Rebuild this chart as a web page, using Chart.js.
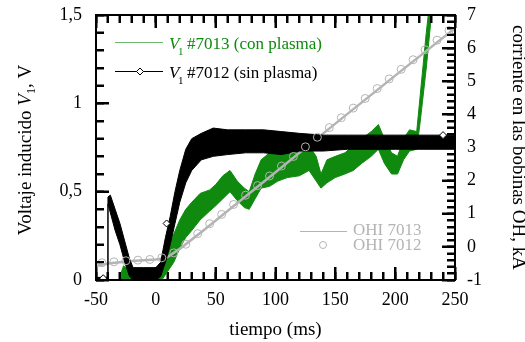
<!DOCTYPE html>
<html>
<head>
<meta charset="utf-8">
<script src="https://cdn.jsdelivr.net/npm/chart.js@4.4.0/dist/chart.umd.min.js"></script>
<style>
  html, body { margin: 0; padding: 0; background: #fff; }
  #wrap { width: 525px; height: 342px; }
</style>
</head>
<body>
<div id="wrap"><canvas id="chart" width="525" height="342"></canvas></div>
<script>
const SERIF = '"Liberation Serif", "Times New Roman", serif';

// V1 #7012 (sin plasma) - noisy band, lower / upper edge
const blackT  = [-50, -40.2, -40, -38, -34, -30, -26, -22, -19, -10, 0, 4, 8, 12, 16, 20, 25, 30, 38, 48, 60, 75, 90, 105, 120, 140, 160, 180, 200, 220, 240, 250];
const blackLo = [0, 0, 0.43, 0.38, 0.28, 0.20, 0.10, 0.02, 0, 0, 0, 0.02, 0.10, 0.20, 0.32, 0.44, 0.55, 0.62, 0.68, 0.70, 0.71, 0.72, 0.72, 0.71, 0.73, 0.73, 0.74, 0.74, 0.74, 0.74, 0.74, 0.74];
const blackHi = [0.015, 0.015, 0.47, 0.48, 0.40, 0.32, 0.22, 0.12, 0.07, 0.07, 0.07, 0.10, 0.24, 0.36, 0.50, 0.62, 0.74, 0.80, 0.83, 0.86, 0.85, 0.85, 0.85, 0.84, 0.83, 0.82, 0.82, 0.82, 0.82, 0.82, 0.82, 0.82];
const diamondT = [-44, 9, 240];
const diamondV = [0.01, 0.32, 0.82];

// V1 #7013 (con plasma)
const greenT  = [-30, -27, -23, -15, 0, 5, 10, 15, 20, 25, 30, 37, 45, 50, 56, 62, 68, 74, 78, 83, 88, 95, 102, 110, 120, 128, 134, 138, 143, 150, 158, 165, 172, 180, 186, 191, 197, 202, 207, 212, 218, 221, 226, 231, 235];
const greenLo = [0, 0, 0, 0, 0, 0, 0.05, 0.10, 0.18, 0.24, 0.28, 0.34, 0.39, 0.42, 0.46, 0.50, 0.45, 0.41, 0.40, 0.46, 0.52, 0.53, 0.56, 0.58, 0.59, 0.62, 0.56, 0.52, 0.55, 0.58, 0.60, 0.62, 0.66, 0.70, 0.74, 0.66, 0.60, 0.60, 0.68, 0.73, 0.74, 0.90, 1.20, 1.55, 1.80];
const greenHi = [0.02, 0.08, 0.06, 0.05, 0.05, 0.08, 0.18, 0.26, 0.34, 0.40, 0.44, 0.49, 0.51, 0.54, 0.59, 0.62, 0.56, 0.52, 0.50, 0.60, 0.68, 0.72, 0.72, 0.72, 0.73, 0.76, 0.70, 0.60, 0.68, 0.70, 0.72, 0.76, 0.80, 0.84, 0.88, 0.80, 0.72, 0.70, 0.80, 0.85, 0.84, 1.05, 1.40, 1.70, 1.90];

// OHI current, kA (right axis)
const ohiT    = [-50, -40, -20, 0, 5, 10, 20, 40, 100, 150, 200, 250];
const ohi7013 = [-0.58, -0.50, -0.43, -0.38, -0.35, -0.30, -0.06, 0.50, 2.25, 3.72, 5.17, 6.60];
const circT   = [-45, -35, -25, -15, -5, 5, 15, 25, 35, 45, 55, 65, 75, 85, 95, 105, 115, 125, 135, 145, 155, 165, 175, 185, 195, 205, 215, 225, 235, 245];
const ohi7012 = [-0.48, -0.45, -0.42, -0.40, -0.38, -0.33, -0.18, 0.08, 0.40, 0.70, 0.98, 1.28, 1.56, 1.85, 2.14, 2.44, 2.73, 3.02, 3.31, 3.60, 3.90, 4.19, 4.48, 4.78, 5.07, 5.36, 5.65, 5.95, 6.24, 6.53];

const GREEN = '#0f8a0f';
const GREY = '#b4b4b4';

const pts = (xs, ys) => xs.map((x, i) => ({ x: x, y: ys[i] }));

// tick-only grid: negative tickLength puts the marks inside the frame
const tickGrid = len => ({ display: true, drawOnChartArea: false, drawTicks: true, tickLength: -len, tickWidth: 2, tickColor: '#000' });

// extra axes that only carry tick marks (no labels, no room taken)
const markAxis = (position, min, max, step, len, weight) => ({
  type: 'linear', position: position, min: min, max: max, weight: weight,
  grid: tickGrid(len), border: { display: false },
  ticks: { display: false, stepSize: step },
  afterFit: s => { if (position === 'top' || position === 'bottom') s.height = 0; else s.width = 0; }
});

// same inward marks again, straight on the canvas, in case the grid ones are lost
function backupTicks(ctx, a) {
  const side = (x0, y0, x1, y1, n, dx, dy) => {
    for (let k = 0; k <= n; k++) {
      const px = Math.round(x0 + (x1 - x0) * k / n);
      const py = Math.round(y0 + (y1 - y0) * k / n);
      const len = k % 5 === 0 ? 13 : 8;
      if (dx === 0) ctx.fillRect(px - 1, dy > 0 ? py : py - len, 2, len);
      else ctx.fillRect(dx > 0 ? px : px - len, py - 1, len, 2);
    }
  };
  ctx.fillStyle = '#000';
  side(a.left, a.bottom, a.right, a.bottom, 30, 0, -1);
  side(a.left, a.top, a.right, a.top, 30, 0, 1);
  side(a.left, a.bottom, a.left, a.top, 15, 1, 0);
  side(a.right, a.bottom, a.right, a.top, 40, -1, 0);
}

const boxAndLegend = {
  id: 'boxAndLegend',
  afterDraw(chart) {
    const ctx = chart.ctx;
    const a = chart.chartArea;
    ctx.save();
    ctx.strokeStyle = '#000';
    ctx.lineWidth = 2;
    ctx.strokeRect(a.left, a.top, a.right - a.left, a.bottom - a.top);
    backupTicks(ctx, a);

    // left axis title with italic V1
    ctx.save();
    ctx.translate(26, 150);
    ctx.rotate(-Math.PI / 2);
    ctx.fillStyle = '#000';
    ctx.textBaseline = 'middle';
    const f1 = '19px ' + SERIF, fi = 'italic 19px ' + SERIF, fs = '12px ' + SERIF;
    const parts = [['Voltaje inducido ', f1, 0], ['V', fi, 0], ['1', fs, 6], [', V', f1, 0]];
    let w = 0;
    parts.forEach(p => { ctx.font = p[1]; w += ctx.measureText(p[0]).width; });
    let cx = -w / 2;
    parts.forEach(p => { ctx.font = p[1]; ctx.fillText(p[0], cx, p[2]); cx += ctx.measureText(p[0]).width; });
    ctx.restore();

    // legend top-left
    ctx.lineWidth = 1;
    ctx.strokeStyle = '#6fb86f';
    ctx.beginPath(); ctx.moveTo(115, 42.5); ctx.lineTo(163, 42.5); ctx.stroke();
    ctx.strokeStyle = '#000';
    ctx.beginPath(); ctx.moveTo(115, 71.5); ctx.lineTo(163, 71.5); ctx.stroke();
    ctx.fillStyle = '#fff';
    ctx.beginPath();
    ctx.moveTo(140, 68); ctx.lineTo(143.5, 71.5); ctx.lineTo(140, 75); ctx.lineTo(136.5, 71.5); ctx.closePath();
    ctx.fill(); ctx.stroke();

    const legendRow = (y, color, label) => {
      ctx.fillStyle = color;
      ctx.textBaseline = 'alphabetic';
      ctx.font = 'italic 17px ' + SERIF;
      ctx.fillText('V', 169, y);
      ctx.font = '11px ' + SERIF;
      ctx.fillText('1', 178, y + 6);
      ctx.font = '17px ' + SERIF;
      ctx.fillText(label, 187, y);
    };
    legendRow(49, GREEN, '#7013 (con plasma)');
    legendRow(78, '#000', '#7012 (sin plasma)');

    // legend bottom-right
    ctx.strokeStyle = GREY;
    ctx.lineWidth = 1;
    ctx.beginPath(); ctx.moveTo(300, 231.5); ctx.lineTo(347, 231.5); ctx.stroke();
    ctx.beginPath(); ctx.arc(323, 245, 3.5, 0, Math.PI * 2); ctx.stroke();
    ctx.fillStyle = GREY;
    ctx.font = '17px ' + SERIF;
    ctx.fillText('OHI 7013', 353, 235);
    ctx.fillText('OHI 7012', 353, 250);
    ctx.restore();
  }
};

new Chart(document.getElementById('chart'), {
  type: 'line',
  data: {
    datasets: [
      { data: pts(greenT, greenLo), yAxisID: 'y', borderColor: GREEN, borderWidth: 1, pointRadius: 0, fill: false, order: 5 },
      { data: pts(greenT, greenHi), yAxisID: 'y', borderColor: GREEN, borderWidth: 1, pointRadius: 0, fill: '-1', backgroundColor: GREEN, order: 5 },
      { data: pts(ohiT, ohi7013), yAxisID: 'y2', borderColor: GREY, borderWidth: 2.5, pointRadius: 0, fill: false, order: 4 },
      { data: pts(blackT, blackLo), yAxisID: 'y', borderColor: '#000', borderWidth: 1, pointRadius: 0, fill: false, order: 3 },
      { data: pts(blackT, blackHi), yAxisID: 'y', borderColor: '#000', borderWidth: 1, pointRadius: 0, fill: '-1', backgroundColor: '#000', order: 3 },
      { data: pts(diamondT, diamondV), yAxisID: 'y', showLine: false, pointStyle: 'rectRot', pointRadius: 3.5, borderColor: '#000', backgroundColor: '#fff', borderWidth: 1, order: 2 },
      { data: pts(circT, ohi7012), yAxisID: 'y2', showLine: false, pointStyle: 'circle', pointRadius: 4, borderColor: GREY, backgroundColor: 'rgba(0,0,0,0)', borderWidth: 1, order: 1 }
    ]
  },
  options: {
    responsive: false,
    animation: false,
    layout: { padding: { top: 15, left: 0, right: 0, bottom: 0 } },
    plugins: { legend: { display: false }, tooltip: { enabled: false } },
    elements: { line: { tension: 0 } },
    scales: {
      x: {
        type: 'linear', min: -50, max: 250, weight: 1,
        grid: tickGrid(13), border: { display: false },
        ticks: { stepSize: 50, color: '#000', font: { family: SERIF, size: 18 }, padding: 22, maxRotation: 0 },
        title: { display: true, text: 'tiempo (ms)', color: '#000', font: { family: SERIF, size: 19 }, padding: { top: 0, bottom: 1 } },
        afterFit: s => { s.height = 62; }
      },
      xMinor: markAxis('bottom', -50, 250, 10, 8, 0),
      xTop: markAxis('top', -50, 250, 50, 13, 1),
      xTopMinor: markAxis('top', -50, 250, 10, 8, 0),
      y: {
        type: 'linear', position: 'left', min: 0, max: 1.5, weight: 1,
        grid: tickGrid(13), border: { display: false },
        ticks: { stepSize: 0.5, color: '#000', font: { family: SERIF, size: 18 }, padding: 27,
          callback: v => String(v).replace('.', ',') },
        afterFit: s => { s.width = 96; s.paddingTop = 0; s.paddingBottom = 0; }
      },
      yMinor: markAxis('left', 0, 1.5, 0.1, 8, 0),
      y2: {
        type: 'linear', position: 'right', min: -1, max: 7, weight: 1,
        grid: tickGrid(13), border: { display: false },
        ticks: { stepSize: 1, color: '#000', font: { family: SERIF, size: 18 }, padding: 25 },
        title: { display: true, text: 'corriente en las bobinas OH, kA', color: '#000', font: { family: SERIF, size: 19 }, padding: { top: -4, bottom: 0 } },
        afterFit: s => { s.width = 70; s.paddingTop = 0; s.paddingBottom = 0; }
      },
      y2Minor: markAxis('right', -1, 7, 0.2, 8, 0)
    }
  },
  plugins: [boxAndLegend]
});
</script>
</body>
</html>
